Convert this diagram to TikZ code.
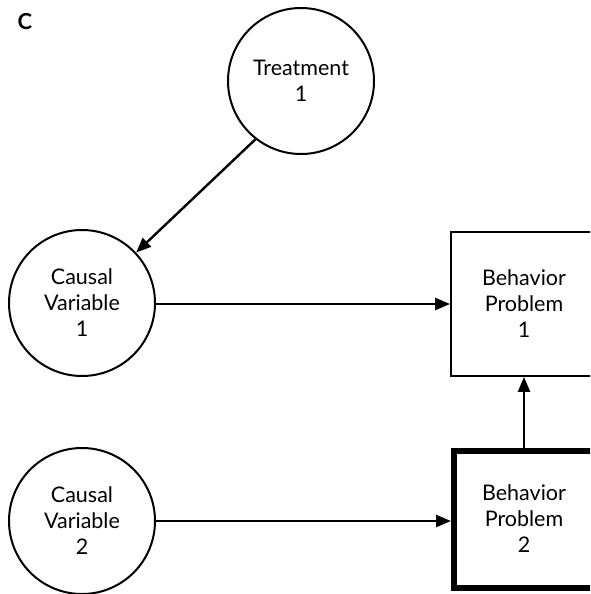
\documentclass[tikz,border=0pt]{standalone}
\usepackage{fontspec}
\setmainfont{Lato}
\usetikzlibrary{arrows.meta}
\begin{document}
\begin{tikzpicture}[x=1pt,y=-1pt,
  every node/.style={font=\fontsize{21.5}{26}\selectfont, align=center},
  var/.style={circle, draw, line width=2pt, minimum size=146pt, inner sep=0pt},
  prob/.style={rectangle, draw, line width=1.8pt, minimum width=146pt, minimum height=144pt, inner sep=0pt},
  probmain/.style={rectangle, draw, line width=6pt, minimum width=140pt, minimum height=137pt, inner sep=0pt},
  link/.style={line width=2.4pt, -{Triangle[length=15pt,width=12pt]}}]
  \useasboundingbox (0,0) rectangle (590,594);
  \clip (0,0) rectangle (590,594);

  \node[font=\fontsize{22}{24}\selectfont\bfseries] (lbl) at (25,22) {C};

  \node[var] (t1) at (301,81) {Treatment\\1};
  \node[var] (cv1) at (82,303) {Causal\\Variable\\1};
  \node[var] (cv2) at (82,521) {Causal\\Variable\\2};
  \node[prob] (bp1) at (524,304) {Behavior\\Problem\\1};
  \node[probmain] (bp2) at (524,519) {Behavior\\Problem\\2};

  \draw[link] (t1.232) -- (cv1.43);
  \draw[link] (cv1.east |- bp1.west) -- (bp1.west);
  \draw[link] (cv2.east) -- (cv2.east -| bp2.west);
  \draw[link] (bp2.north) -- (bp1.south);
\end{tikzpicture}
\end{document}
